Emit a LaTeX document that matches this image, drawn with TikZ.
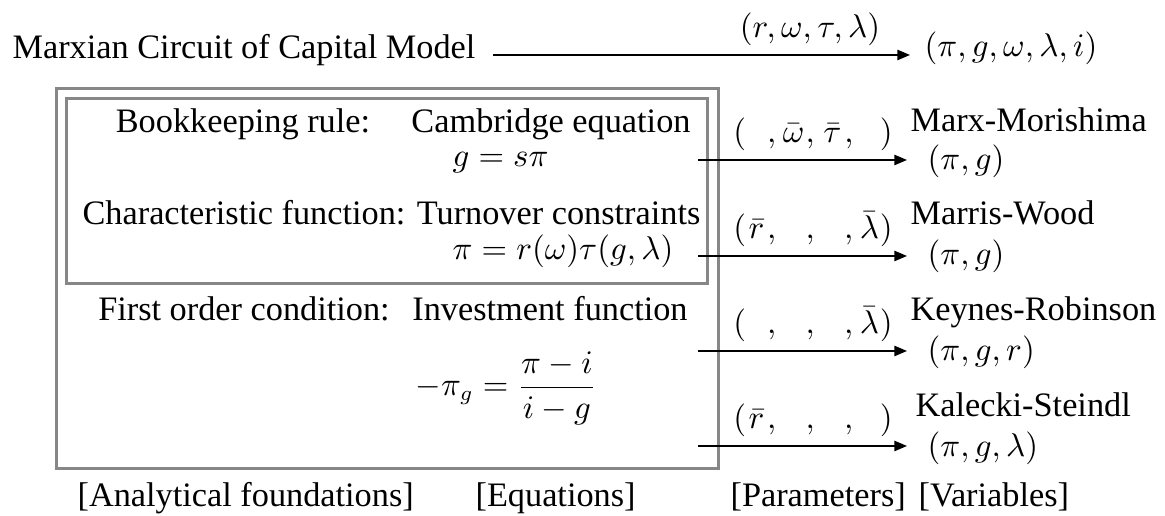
\documentclass[tikz,border=0pt]{standalone}
\usepackage[no-math]{fontspec}
\setmainfont{Liberation Serif}
\usetikzlibrary{arrows.meta}
\definecolor{boxgray}{RGB}{135,135,135}
\newcommand{\slotbox}[2]{\makebox[#1]{$#2$}}
\begin{document}
\begin{tikzpicture}[x=0.33333pt,y=-0.33333pt,
  txt/.style={font=\fontsize{11.43}{13}\selectfont, inner sep=0pt},
  mth/.style={font=\fontsize{10.5}{12}\selectfont, inner sep=0pt},
  flow/.style={line width=0.6pt, -{Triangle[length=4.2pt,width=3.4pt]}},
  frame/.style={draw=boxgray, line width=1pt}]
\useasboundingbox (0,0) rectangle (1165,516);

% top line
\node[txt, anchor=base west] (title) at (12,59) {Marxian Circuit of Capital Model};
\coordinate (t0) at (493,55);
\coordinate (t1) at (910,55);
\draw[flow] (t0) -- (t1);
\node[mth, anchor=base] (tpar) at (810,38) {$(r,\omega,\tau,\lambda)$};
\node[mth, anchor=base west] (tvar) at (924,57) {$(\pi,g,\omega,\lambda,i)$};

% boxes
\draw[frame] (56,89) rectangle (718,469);
\draw[frame] (66,99) rectangle (707,284);

% rows inside
\node[txt, anchor=base] (r1a) at (243,133) {Bookkeeping rule:};
\node[txt, anchor=base] (r1b) at (551,133) {Cambridge equation};
\node[mth, anchor=base west] (r1m) at (452,167) {$g=s\pi$};
\node[txt, anchor=base west] (r2a) at (82,225) {Characteristic function: Turnover constraints};
\node[mth, anchor=base west] (r2m) at (452,260) {$\pi=r(\omega)\tau(g,\lambda)$};
\node[txt, anchor=base] (r3a) at (244,321) {First order condition:};
\node[txt, anchor=base] (r3b) at (550,321) {Investment function};
\node[mth, anchor=base west] (r3m) at (415,396) {$\displaystyle -\pi_g=\frac{\pi-i}{i-g}$};

% arrows
\coordinate (a1) at (698,160); \coordinate (b1) at (907,160);
\coordinate (a2) at (698,256); \coordinate (b2) at (907,256);
\coordinate (a3) at (698,351); \coordinate (b3) at (907,351);
\coordinate (a4) at (698,446); \coordinate (b4) at (907,446);
\draw[flow] (a1) -- (b1);
\draw[flow] (a2) -- (b2);
\draw[flow] (a3) -- (b3);
\draw[flow] (a4) -- (b4);

% parameter labels
\node[mth, anchor=base] (p1) at (813,143) {$(\slotbox{7pt}{},\slotbox{8pt}{\bar\omega},\slotbox{8pt}{\bar\tau},\slotbox{7pt}{})$};
\node[mth, anchor=base] (p2) at (813,239) {$(\slotbox{7pt}{\bar r},\slotbox{8pt}{},\slotbox{8pt}{},\slotbox{7pt}{\bar\lambda})$};
\node[mth, anchor=base] (p3) at (813,334) {$(\slotbox{7pt}{},\slotbox{8pt}{},\slotbox{8pt}{},\slotbox{7pt}{\bar\lambda})$};
\node[mth, anchor=base] (p4) at (813,429) {$(\slotbox{7pt}{\bar r},\slotbox{8pt}{},\slotbox{8pt}{},\slotbox{7pt}{})$};

% variables
\node[txt, anchor=base west] (v1n) at (910,132) {Marx-Morishima};
\node[mth, anchor=base west] (v1) at (927,170) {$(\pi,g)$};
\node[txt, anchor=base west] (v2n) at (910,225) {Marris-Wood};
\node[mth, anchor=base west] (v2) at (927,265) {$(\pi,g)$};
\node[txt, anchor=base west] (v3n) at (910,321) {Keynes-Robinson};
\node[mth, anchor=base west] (v3) at (927,361) {$(\pi,g,r)$};
\node[txt, anchor=base west] (v4n) at (915,417) {Kalecki-Steindl};
\node[mth, anchor=base west] (v4) at (927,457) {$(\pi,g,\lambda)$};

% bottom captions
\node[txt, anchor=base west] (c1) at (77,507) {[Analytical foundations]};
\node[txt, anchor=base west] (c2) at (475,507) {[Equations]};
\node[txt, anchor=base west] (c3) at (730,507) {[Parameters]};
\node[txt, anchor=base west] (c4) at (918,507) {[Variables]};
\end{tikzpicture}
\end{document}
